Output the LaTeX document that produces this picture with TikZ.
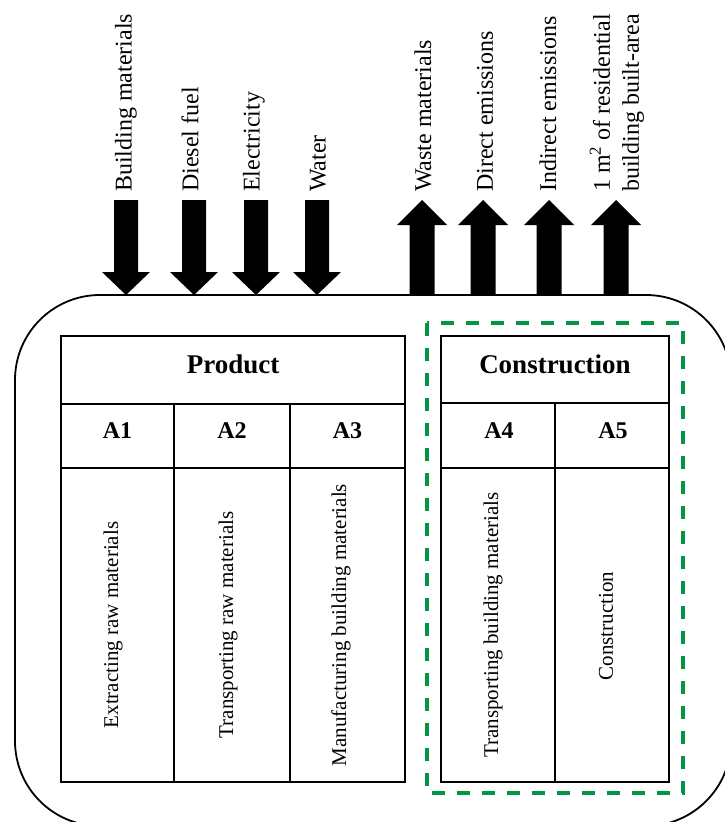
\documentclass[tikz,border=0pt]{standalone}
\usepackage{fontspec}
\setmainfont{Liberation Serif}
\definecolor{dgreen}{RGB}{0,150,70}
\begin{document}
\begin{tikzpicture}[x=1pt,y=-1pt,
  lbl/.style={rotate=90,anchor=west,inner sep=0pt,font=\fontsize{24}{28}\selectfont},
  hdr/.style={font=\fontsize{27}{30}\selectfont\bfseries,inner sep=0pt},
  sublbl/.style={font=\fontsize{24}{28}\selectfont\bfseries,inner sep=0pt},
  body/.style={rotate=90,font=\fontsize{21}{24}\selectfont,inner sep=0pt},
  cell/.style={draw,line width=1.6pt},
  inarrow/.style={fill=black},
  outarrow/.style={fill=black}]
\useasboundingbox (0,0) rectangle (725,822);
% outer system boundary
\begin{scope}
\clip (0,0) rectangle (725,822);
\draw[line width=1.8pt,rounded corners=85pt] (15,295) rectangle (731,826);
\end{scope}
% input arrows
\foreach \x/\n in {126/i1,194/i2,256/i3,317/i4}{
  \fill[inarrow] (\x-12,200) -- (\x+12,200) -- (\x+12,272) -- (\x+24,272) -- (\x,295) -- (\x-24,272) -- (\x-12,272) -- cycle;
}
% output arrows
\foreach \x in {422,483,549,616}{
  \fill[outarrow] (\x-12.5,295) -- (\x-12.5,225) -- (\x-25,225) -- (\x,200) -- (\x+25,225) -- (\x+12.5,225) -- (\x+12.5,295) -- cycle;
}
% labels
\node[lbl] (lbm) at (126,192) {Building materials};
\node[lbl] (ldf) at (190,192) {Diesel fuel};
\node[lbl] (lel) at (254,192) {Electricity};
\node[lbl] (lwa) at (318,192) {Water};
\node[lbl] (lwm) at (423,192) {Waste materials};
\node[lbl] (lde) at (485,192) {Direct emissions};
\node[lbl] (lie) at (548,192) {Indirect emissions};
\node[lbl,align=left,font=\fontsize{24}{29}\selectfont] (lfu) at (617,192) {1 m\textsuperscript{2} of residential\\building built-area};
% product table
\draw[cell] (61,336) rectangle (405,782);
\draw[cell] (61,404) -- (405,404);
\draw[cell] (61,468) -- (405,468);
\draw[cell] (174,404) -- (174,782);
\draw[cell] (290,404) -- (290,782);
\node[hdr] (prod) at (233,364) {Product};
\node[sublbl] (a1) at (117.5,431) {A1};
\node[sublbl] (a2) at (232,431) {A2};
\node[sublbl] (a3) at (347.5,431) {A3};
\node[body] (t1) at (113,625) {Extracting raw materials};
\node[body] (t2) at (228,625) {Transporting raw materials};
\node[body] (t3) at (341,625) {Manufacturing building materials};
% construction table
\draw[cell] (441,336) rectangle (669,782);
\draw[cell] (441,403) -- (669,403);
\draw[cell] (441,468) -- (669,468);
\draw[cell] (555,403) -- (555,782);
\node[hdr] (cons) at (555,364) {Construction};
\node[sublbl] (a4) at (499,431) {A4};
\node[sublbl] (a5) at (613,431) {A5};
\node[body] (t4) at (493,625) {Transporting building materials};
\node[body] (t5) at (606,626) {Construction};
% green dashed boundary
\draw[dgreen,line width=3.6pt,dash pattern=on 13pt off 12pt] (427,323) rectangle (683,793);
\end{tikzpicture}
\end{document}
